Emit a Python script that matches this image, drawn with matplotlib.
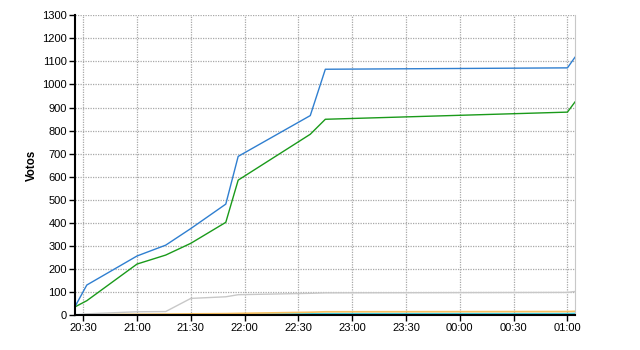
import matplotlib
matplotlib.use("Agg")
import matplotlib.pyplot as plt
import matplotlib.dates as mdates
import pandas as pd

plt.rcParams['font.family'] = ['Liberation Sans', 'DejaVu Sans']

# sample times (next day after midnight)
times = pd.to_datetime([
    "2000-01-01 20:25:36", "2000-01-01 20:32:00", "2000-01-01 21:00:00",
    "2000-01-01 21:16:00", "2000-01-01 21:30:00", "2000-01-01 21:49:30",
    "2000-01-01 21:56:24", "2000-01-01 22:36:36", "2000-01-01 22:45:00",
    "2000-01-02 01:00:00", "2000-01-02 01:04:12",
])

blue = [39, 130, 256, 303, 375, 481, 688, 865, 1066, 1072, 1118]
green = [36, 62, 221, 260, 311, 402, 585, 784, 849, 880, 924]
gray = [0, 5, 14, 15, 72, 79, 88, 94, 96, 98, 102]
orange = [0, 1, 3, 4, 5, 6, 7, 12, 14, 15, 16]
cyan = [0, 0, 0, 0, 0, 0, 2, 4, 5, 5, 6]

x_start = pd.Timestamp("2000-01-01 20:25:36")
x_end = pd.Timestamp("2000-01-02 01:04:12")

fig = plt.figure(figsize=(6.4, 3.5), dpi=100)
ax = fig.add_axes([0.1177, 0.1, 0.7807, 0.8563])

ax.plot(times, cyan, color='#40d0e0', lw=1.5)
ax.plot(times, orange, color='#f8c060', lw=1.2)
ax.plot(times, gray, color='#c8c8c8', lw=1.0)
ax.plot(times, green, color='#1a9a1a', lw=1.0)
ax.plot(times, blue, color='#2f7fd0', lw=1.0)

ax.set_xlim(x_start, x_end)
ax.set_ylim(0, 1300)
ax.set_yticks(range(0, 1301, 100))
ax.xaxis.set_major_locator(mdates.MinuteLocator(byminute=[0, 30]))
ax.xaxis.set_major_formatter(mdates.DateFormatter('%H:%M'))

ax.grid(True, color='#a8a8a8', linestyle=(0, (1, 1)), linewidth=0.9)
ax.set_axisbelow(True)

ax.spines['top'].set_visible(False)
ax.spines['right'].set_color('#c8c8c8')
ax.spines['left'].set_linewidth(1.5)
ax.spines['bottom'].set_linewidth(1.5)
ax.tick_params(axis='both', length=4, width=1, labelsize=8, pad=2)

ax.set_ylabel('Votos', fontsize=8.3, fontweight='bold', labelpad=3)

fig.savefig('out.png', dpi=100)
